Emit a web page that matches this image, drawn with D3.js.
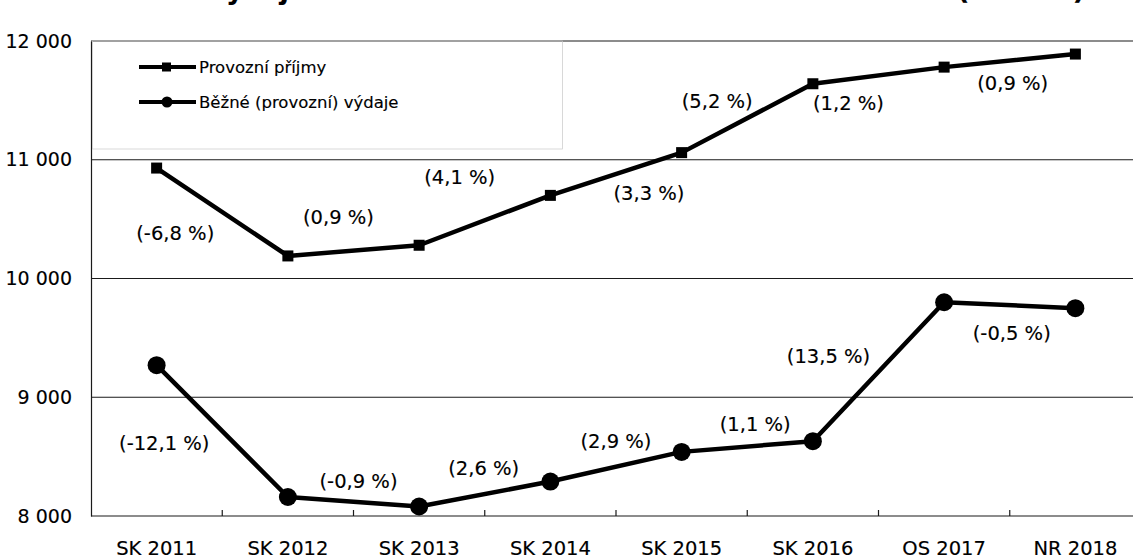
<!DOCTYPE html>
<html>
<head>
<meta charset="utf-8">
<script src="https://cdn.jsdelivr.net/npm/d3@7"></script>
<style>
  body { margin: 0; background: #fff; }
  svg { display: block; font-family: "DejaVu Sans", sans-serif; }
  svg text { stroke: #000; stroke-width: 0.15px; }
</style>
</head>
<body>
<div id="chart"></div>
<script>
// data
const categories = ["SK 2011", "SK 2012", "SK 2013", "SK 2014", "SK 2015", "SK 2016", "OS 2017", "NR 2018"];
const prijmy = [10930, 10190, 10280, 10700, 11060, 11640, 11780, 11890];
const vydaje = [9270, 8160, 8080, 8290, 8540, 8630, 9800, 9750];
const prijmyPct = ["(-6,8 %)", "(0,9 %)", "(4,1 %)", "(3,3 %)", "(5,2 %)", "(1,2 %)", "(0,9 %)"];
const vydajePct = ["(-12,1 %)", "(-0,9 %)", "(2,6 %)", "(2,9 %)", "(1,1 %)", "(13,5 %)", "(-0,5 %)"];
const yTicks = [8000, 9000, 10000, 11000, 12000];

// label offsets (px) from the middle of each segment
const prijmyLabelOff = [[-47, 21], [-15, -33], [-25, -43], [33, 19], [-30, -17], [-30, 28], [3, 23]];
const vydajeLabelOff = [[-58, 12], [5, -21], [-1, -26], [0, -26], [8, -22], [-50, -16], [2, 28]];

const W = 1133, H = 559;
const margin = {top: 41, left: 91, bottom: 43};
const plotRight = 1141;

const svg = d3.select("#chart").append("svg")
    .attr("width", W)
    .attr("height", H);

const x = d3.scaleBand().domain(categories).range([margin.left, plotRight]);
const y = d3.scaleLinear().domain([8000, 12000]).range([H - margin.bottom, margin.top]);
const cx = c => x(c) + x.bandwidth() / 2;

// title, cut off by the top edge in the source
svg.append("text").attr("x", 205).attr("y", -1)
    .attr("font-weight", "bold").attr("font-size", 27).text("Vývoj");
svg.append("text").attr("x", 1085).attr("y", -1).attr("text-anchor", "end")
    .attr("font-weight", "bold").attr("font-size", 27).text("(mil. Kč)");

// gridlines
svg.append("g").selectAll("line")
    .data(yTicks)
    .join("line")
    .attr("x1", margin.left).attr("x2", W)
    .attr("y1", d => y(d)).attr("y2", d => y(d))
    .attr("stroke", "#1a1a1a").attr("stroke-width", 1.2);

// y axis
const yAxis = d3.axisLeft(y).tickValues(yTicks).tickSize(0).tickPadding(19)
    .tickFormat(d => d3.format(",")(d).replace(",", " "));
const yG = svg.append("g").attr("transform", `translate(${margin.left},0)`).call(yAxis);
yG.select(".domain").attr("stroke", "#1a1a1a").attr("stroke-width", 1.2);
yG.selectAll("text").attr("font-size", 19).attr("fill", "#000")
    .attr("font-family", "DejaVu Sans, sans-serif");

// x axis: ticks at band edges pointing up
const xG = svg.append("g").attr("transform", `translate(0,${y(8000)})`);
xG.selectAll("line.tick")
    .data(categories.slice(1))
    .join("line")
    .attr("class", "tick")
    .attr("x1", d => x(d)).attr("x2", d => x(d))
    .attr("y1", 0).attr("y2", -6)
    .attr("stroke", "#1a1a1a").attr("stroke-width", 1.2);
xG.selectAll("text")
    .data(categories)
    .join("text")
    .attr("x", d => cx(d))
    .attr("y", 39)
    .attr("text-anchor", "middle")
    .attr("font-size", 19.5)
    .text(d => d);

// legend box (faint in the scan)
svg.append("rect")
    .attr("x", 92.5).attr("y", 41).attr("width", 470).attr("height", 108)
    .attr("fill", "none").attr("stroke", "#c8c8c8").attr("stroke-width", 0.7);

const line = d3.line().x((d, i) => cx(categories[i])).y(d => y(d));

function drawSeries(values, labels, offs, marker) {
    const g = svg.append("g");
    g.append("path")
        .datum(values)
        .attr("d", line)
        .attr("fill", "none")
        .attr("stroke", "#000")
        .attr("stroke-width", 4.5)
        .attr("stroke-linejoin", "round");
    if (marker === "square") {
        g.selectAll("rect").data(values).join("rect")
            .attr("x", (d, i) => cx(categories[i]) - 5.5)
            .attr("y", d => y(d) - 5.5)
            .attr("width", 11).attr("height", 11)
            .attr("fill", "#000");
    } else {
        g.selectAll("circle").data(values).join("circle")
            .attr("cx", (d, i) => cx(categories[i]))
            .attr("cy", d => y(d))
            .attr("r", 9)
            .attr("fill", "#000");
    }
    g.selectAll("text").data(labels).join("text")
        .attr("x", (d, i) => (cx(categories[i]) + cx(categories[i + 1])) / 2 + offs[i][0])
        .attr("y", (d, i) => (y(values[i]) + y(values[i + 1])) / 2 + offs[i][1])
        .attr("dy", "0.35em")
        .attr("text-anchor", "middle")
        .attr("font-size", 19.5)
        .text(d => d);
}

drawSeries(prijmy, prijmyPct, prijmyLabelOff, "square");
drawSeries(vydaje, vydajePct, vydajeLabelOff, "circle");

// legend entries
const legend = [
    {name: "Provozní příjmy", marker: "square", y: 67},
    {name: "Běžné (provozní) výdaje", marker: "circle", y: 102}
];
const lg = svg.append("g");
legend.forEach(l => {
    lg.append("line")
        .attr("x1", 139).attr("x2", 196)
        .attr("y1", l.y).attr("y2", l.y)
        .attr("stroke", "#000").attr("stroke-width", 4);
    if (l.marker === "square") {
        lg.append("rect").attr("x", 162).attr("y", l.y - 4.5)
            .attr("width", 9).attr("height", 9).attr("fill", "#000");
    } else {
        lg.append("circle").attr("cx", 167).attr("cy", l.y).attr("r", 5.5).attr("fill", "#000");
    }
    lg.append("text")
        .attr("x", 199).attr("y", l.y)
        .attr("dy", "0.35em")
        .attr("font-size", 16.5)
        .text(l.name);
});
</script>
</body>
</html>
